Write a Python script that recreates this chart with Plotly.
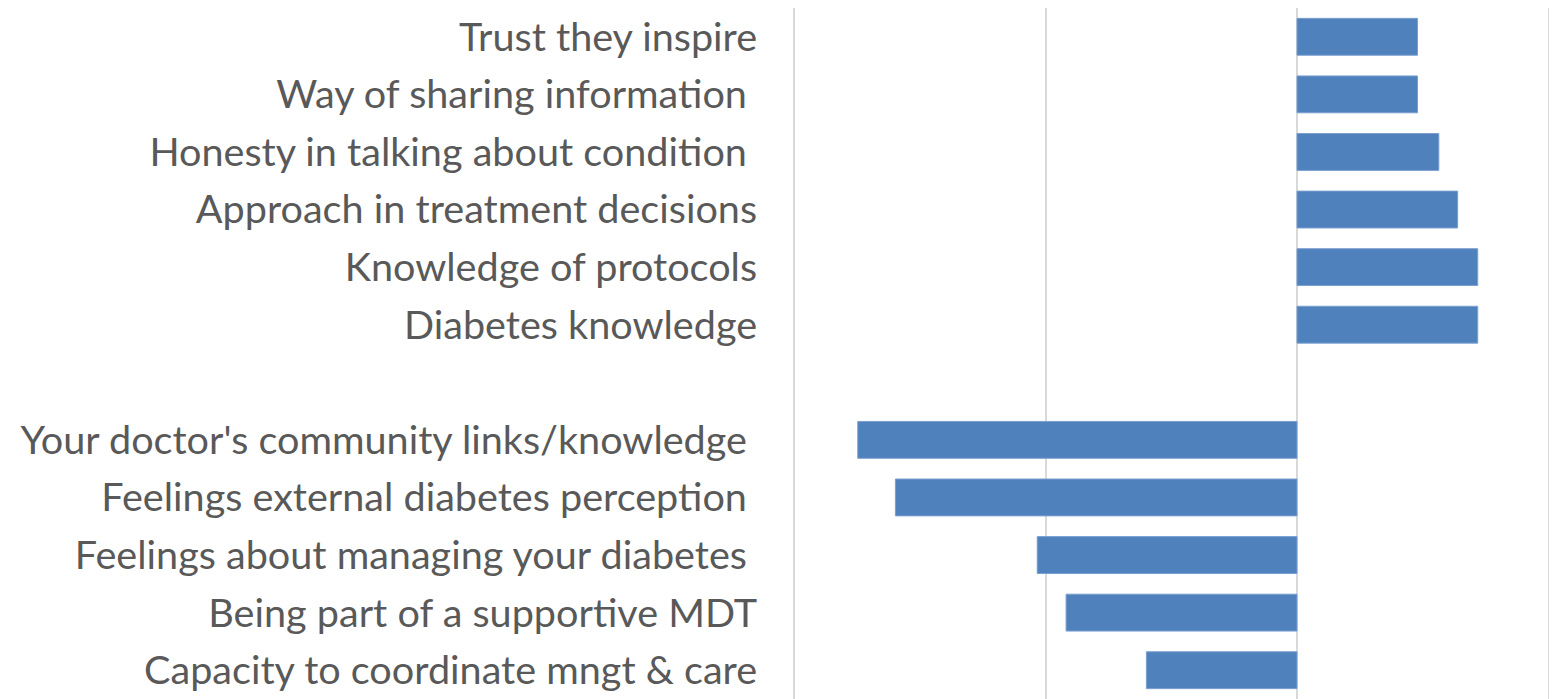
import plotly.graph_objects as go

categories = [
    "Trust they inspire",
    "Way of sharing information\u00a0",
    "Honesty in talking about condition\u00a0",
    "Approach in treatment decisions",
    "Knowledge of protocols",
    "Diabetes knowledge",
    "\u00a0",
    "Your doctor's community links/knowledge\u00a0",
    "Feelings external diabetes perception\u00a0",
    "Feelings about managing your diabetes\u00a0",
    "Being part of a supportive MDT",
    "Capacity to coordinate mngt & care",
]
values = [0.48, 0.48, 0.565, 0.64, 0.72, 0.72, None, -1.75, -1.60, -1.035, -0.92, -0.60]

fig = go.Figure(go.Bar(
    y=categories, x=values, orientation="h",
    marker=dict(color="#4f81bd", line=dict(color="#7a9fd0", width=1)),
    width=0.64,
))
# page body has an 8px margin, so the figure is offset by (8, 8)
fig.update_layout(
    width=1549, height=691,
    margin=dict(l=787, r=9, t=0, b=0),
    paper_bgcolor="white", plot_bgcolor="white",
    showlegend=False,
    font=dict(family="Lato", color="#595959"),
)
fig.update_xaxes(range=[-2, 1], dtick=1, showticklabels=False,
                 showgrid=True, gridcolor="#d9d9d9", gridwidth=2,
                 zeroline=True, zerolinecolor="#d9d9d9", zerolinewidth=2,
                 showline=False)
fig.update_yaxes(categoryorder="array", categoryarray=categories, autorange="reversed",
                 tickfont=dict(size=39.6, color="#595959", family="Lato"),
                 ticks="outside", ticklen=28, tickcolor="rgba(0,0,0,0)",
                 showgrid=False, showline=True, mirror=True,
                 linecolor="#d9d9d9", linewidth=2)
fig.write_html("out.html")
